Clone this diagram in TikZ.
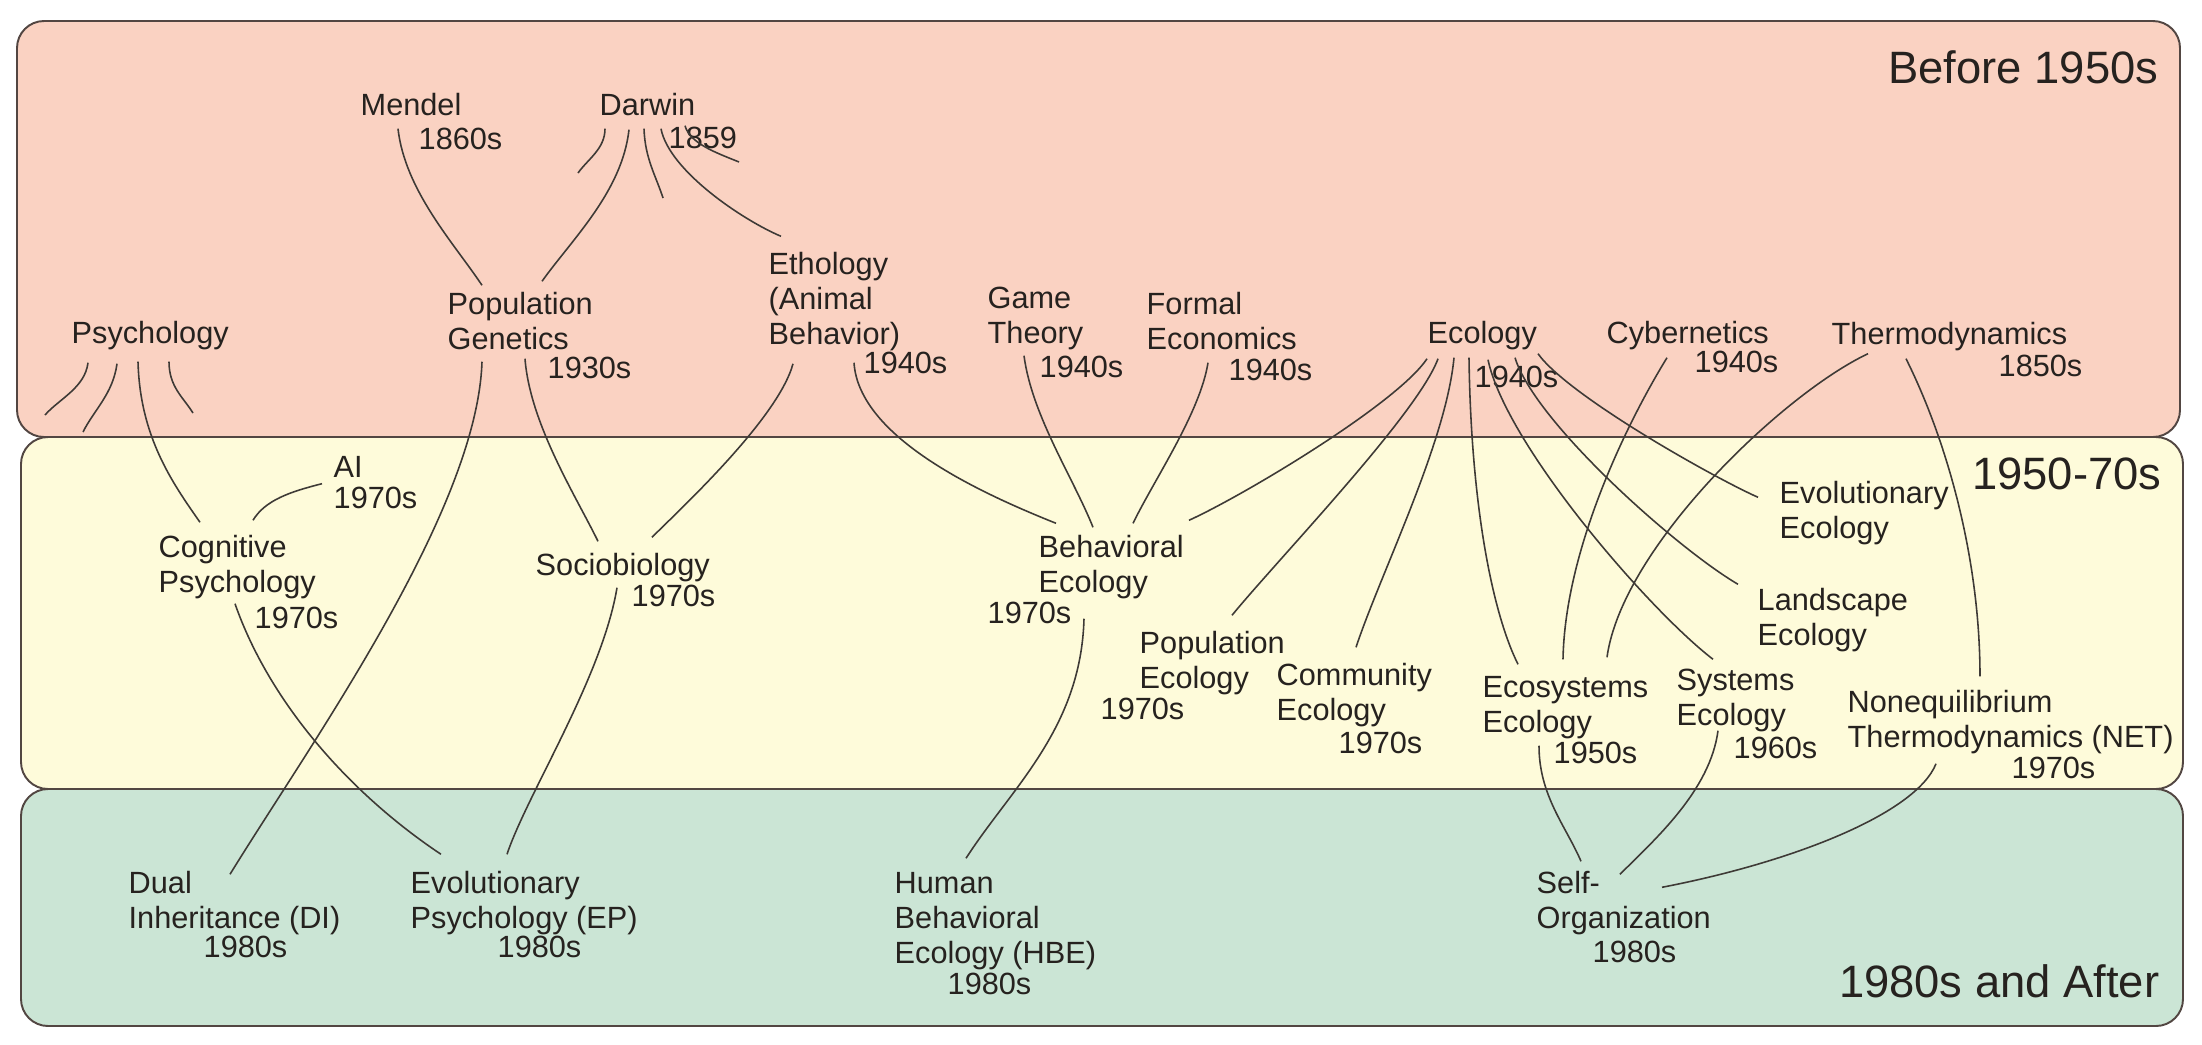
\documentclass[tikz,border=0pt]{standalone}
\usepackage{fontspec}
\setmainfont{Liberation Sans}
\usetikzlibrary{calc}

\definecolor{bandred}{RGB}{250,210,194}
\definecolor{bandyellow}{RGB}{254,251,218}
\definecolor{bandgreen}{RGB}{203,229,213}
\definecolor{bandedge}{RGB}{82,70,66}
\definecolor{ink}{RGB}{38,34,31}
\definecolor{linkgray}{RGB}{62,58,54}

% lines of a label, baseline on the first line
\newcommand{\lbl}[1]{\begin{tabular}[t]{@{}l@{}}#1\end{tabular}}

\tikzset{
	topic/.style={inner sep=0pt, anchor=base west, text=ink, font=\fontsize{8.73}{9.96}\selectfont},
	era/.style={inner sep=0pt, anchor=base east, text=ink, font=\fontsize{12.9}{15}\selectfont},
	band/.style={draw=bandedge, line width=0.55pt, rounded corners=2.7mm},
	link/.style={draw=linkgray, line width=0.45pt}
}

\begin{document}
\begin{tikzpicture}[x=0.01cm, y=-0.01cm]
	\useasboundingbox (0,0) rectangle (2202,1045);
	% era bands
	\draw[band, fill=bandred] (17,21) rectangle (2180,437);
	\draw[band, fill=bandyellow] (21,437) rectangle (2183,789);
	\draw[band, fill=bandgreen] (21,789) rectangle (2183,1026);
	\node[era] (before) at (2159,83) {Before 1950s};
	\node[era] (middle) at (2162,489) {1950-70s};
	\node[era] (after) at (2160,997) {1980s and After};

	% before 1950s
	\node[topic] (mendel) at (360,115) {\lbl{Mendel}};
	\node[topic] (mendelY) at (418,149) {\lbl{1860s}};
	\node[topic] (darwin) at (599,115) {\lbl{Darwin}};
	\node[topic] (darwinY) at (668,148) {\lbl{1859}};
	\node[topic] (psych) at (71,343) {\lbl{Psychology}};
	\node[topic] (popgen) at (447,314) {\lbl{Population\\Genetics}};
	\node[topic] (popgenY) at (547,378) {\lbl{1930s}};
	\node[topic] (etho) at (768,274) {\lbl{Ethology\\(Animal\\Behavior)}};
	\node[topic] (ethoY) at (863,373) {\lbl{1940s}};
	\node[topic] (game) at (987,308) {\lbl{Game\\Theory}};
	\node[topic] (gameY) at (1039,377) {\lbl{1940s}};
	\node[topic] (econ) at (1146,314) {\lbl{Formal\\Economics}};
	\node[topic] (econY) at (1228,380) {\lbl{1940s}};
	\node[topic] (ecol) at (1427,343) {\lbl{Ecology}};
	\node[topic] (ecolY) at (1474,387) {\lbl{1940s}};
	\node[topic] (cyber) at (1606,343) {\lbl{Cybernetics}};
	\node[topic] (cyberY) at (1694,372) {\lbl{1940s}};
	\node[topic] (thermo) at (1831,344) {\lbl{Thermodynamics}};
	\node[topic] (thermoY) at (1998,376) {\lbl{1850s}};

	% 1950-70s
	\node[topic] (ai) at (333,477) {\lbl{AI}};
	\node[topic] (aiY) at (333,508) {\lbl{1970s}};
	\node[topic] (cogpsy) at (158,557) {\lbl{Cognitive\\Psychology}};
	\node[topic] (cogpsyY) at (254,628) {\lbl{1970s}};
	\node[topic] (socio) at (535,575) {\lbl{Sociobiology}};
	\node[topic] (socioY) at (631,606) {\lbl{1970s}};
	\node[topic] (behav) at (1038,557) {\lbl{Behavioral\\Ecology}};
	\node[topic] (behavY) at (987,623) {\lbl{1970s}};
	\node[topic] (popecol) at (1139,653) {\lbl{Population\\Ecology}};
	\node[topic] (popecolY) at (1100,719) {\lbl{1970s}};
	\node[topic] (commun) at (1276,685) {\lbl{Community\\Ecology}};
	\node[topic] (communY) at (1338,753) {\lbl{1970s}};
	\node[topic] (ecosys) at (1482,697) {\lbl{Ecosystems\\Ecology}};
	\node[topic] (ecosysY) at (1553,763) {\lbl{1950s}};
	\node[topic] (syseco) at (1676,690) {\lbl{Systems\\Ecology}};
	\node[topic] (sysecoY) at (1733,758) {\lbl{1960s}};
	\node[topic] (evoeco) at (1779,503) {\lbl{Evolutionary\\Ecology}};
	\node[topic] (landeco) at (1757,610) {\lbl{Landscape\\Ecology}};
	\node[topic] (net) at (1847,712) {\lbl{Nonequilibrium\\Thermodynamics (NET)}};
	\node[topic] (netY) at (2011,778) {\lbl{1970s}};

	% 1980s and after
	\node[topic] (di) at (128,893) {\lbl{Dual\\Inheritance (DI)}};
	\node[topic] (diY) at (203,957) {\lbl{1980s}};
	\node[topic] (ep) at (410,893) {\lbl{Evolutionary\\Psychology (EP)}};
	\node[topic] (epY) at (497,957) {\lbl{1980s}};
	\node[topic] (hbe) at (894,893) {\lbl{Human\\Behavioral\\Ecology (HBE)}};
	\node[topic] (hbeY) at (947,994) {\lbl{1980s}};
	\node[topic] (selforg) at (1536,893) {\lbl{Self-\\Organization}};
	\node[topic] (selforgY) at (1592,962) {\lbl{1980s}};

	% loose ends
	\coordinate (darwinA) at (578,173);
	\coordinate (darwinB) at (663,198);
	\coordinate (darwinC) at (739,162);
	\coordinate (psychA) at (45,415);
	\coordinate (psychB) at (83,432);
	\coordinate (psychC) at (193,413);

	% links
	\draw[link] ($(mendel.south west)+(38,2.5)$) .. controls +(7,62) and +(-28,-42) .. ($(popgen.north west)+(35,-3.5)$);
	\draw[link] ($(darwin.south west)+(30,3.5)$) .. controls +(-7,62) and +(30,-42) .. ($(popgen.north west)+(95,-7.5)$);
	\draw[link] ($(darwin.south west)+(6,2.5)$) .. controls +(0,20) and +(10,-14) .. (darwinA);
	\draw[link] ($(darwin.south west)+(45,2.5)$) .. controls +(1,30) and +(-7,-22) .. (darwinB);
	\draw[link] ($(darwin.south west)+(62,2.5)$) .. controls +(8,42) and +(-38,-16) .. ($(etho.north west)+(13,-12.5)$);
	\draw[link] ($(darwin.south west)+(86,-0.5)$) .. controls +(5,18) and +(-22,-9) .. (darwinC);

	\draw[link] ($(psych.south west)+(17,8.5)$) .. controls +(-3,25) and +(14,-16) .. (psychA);
	\draw[link] ($(psych.south west)+(46,9.5)$) .. controls +(-4,30) and +(11,-22) .. (psychB);
	\draw[link] ($(psych.south west)+(67,7.5)$) .. controls +(2,75) and +(-28,-40) .. ($(cogpsy.north west)+(42,-9.5)$);
	\draw[link] ($(psych.south west)+(98,7.5)$) .. controls +(0,25) and +(-10,-16) .. (psychC);

	\draw[link] ($(ai.south west)+(-11,-4.5)$) .. controls +(-32,8) and +(12,-20) .. ($(cogpsy.north west)+(95,-11.5)$);
	\draw[link] ($(popgen.south west)+(35,1.5)$) .. controls +(-5,150) and +(80,-130) .. ($(di.north west)+(102,6.5)$);
	\draw[link] ($(popgen.south west)+(78,-1.5)$) .. controls +(5,65) and +(-22,-45) .. ($(socio.north west)+(63,-8.5)$);
	\draw[link] ($(etho.south west)+(25,8.5)$) .. controls +(-15,55) and +(28,-28) .. ($(socio.north west)+(117,-12.5)$);
	\draw[link] ($(etho.south west)+(86,7.5)$) .. controls +(5,75) and +(-75,-30) .. ($(behav.north west)+(18,-8.5)$);
	\draw[link] ($(game.south west)+(37,1.5)$) .. controls +(8,60) and +(-20,-50) .. ($(behav.north west)+(55,-4.5)$);
	\draw[link] ($(econ.south west)+(62,2.5)$) .. controls +(-8,50) and +(22,-45) .. ($(behav.north west)+(95,-8.5)$);

	\draw[link] ($(ecol.south west)+(0,4.5)$) .. controls +(-30,45) and +(55,-25) .. ($(behav.north west)+(151,-11.5)$);
	\draw[link] ($(ecol.south west)+(11,4.5)$) .. controls +(-20,55) and +(45,-55) .. ($(popecol.north west)+(93,-12.5)$);
	\draw[link] ($(ecol.south west)+(27,3.5)$) .. controls +(-8,85) and +(25,-75) .. ($(commun.north west)+(80,-12.5)$);
	\draw[link] ($(ecol.south west)+(42,3.5)$) .. controls +(2,150) and +(-25,-50) .. ($(ecosys.north west)+(36,-7.5)$);
	\draw[link] ($(ecol.south west)+(61,5.5)$) .. controls +(18,85) and +(-65,-50) .. ($(syseco.north west)+(37,-5.5)$);
	\draw[link] ($(ecol.south west)+(88,3.5)$) .. controls +(20,65) and +(-60,-35) .. ($(landeco.north west)+(-19,-0.5)$);
	\draw[link] ($(ecol.south west)+(111,-0.5)$) .. controls +(30,42) and +(-45,-20) .. ($(evoeco.north west)+(-21,19.5)$);
	\draw[link] ($(cyber.south west)+(61,3.5)$) .. controls +(-40,65) and +(2,-110) .. ($(ecosys.north west)+(81,-12.5)$);
	\draw[link] ($(thermo.south west)+(37,-1.5)$) .. controls +(-85,40) and +(15,-110) .. ($(ecosys.north west)+(125,-14.5)$);
	\draw[link] ($(thermo.south west)+(75,3.5)$) .. controls +(40,80) and +(0,-120) .. ($(net.north west)+(133,-10.5)$);

	\draw[link] ($(cogpsy.south west)+(77,0.5)$) .. controls +(35,100) and +(-90,-60) .. ($(ep.north west)+(31,-13.5)$);
	\draw[link] ($(socio.south west)+(82,1.5)$) .. controls +(-15,90) and +(20,-60) .. ($(ep.north west)+(97,-13.5)$);
	\draw[link] ($(behav.south west)+(46,15.5)$) .. controls +(-3,110) and +(45,-70) .. ($(hbe.north west)+(72,-9.5)$);
	\draw[link] ($(ecosys.south west)+(57,2.5)$) .. controls +(0,50) and +(-15,-35) .. ($(selforg.north west)+(45,-6.5)$);
	\draw[link] ($(syseco.south west)+(42,-5.5)$) .. controls +(-8,60) and +(35,-35) .. ($(selforg.north west)+(84,6.5)$);
	\draw[link] ($(net.south west)+(89,5.5)$) .. controls +(-20,50) and +(130,-25) .. ($(selforg.north west)+(126,19.5)$);
\end{tikzpicture}
\end{document}
